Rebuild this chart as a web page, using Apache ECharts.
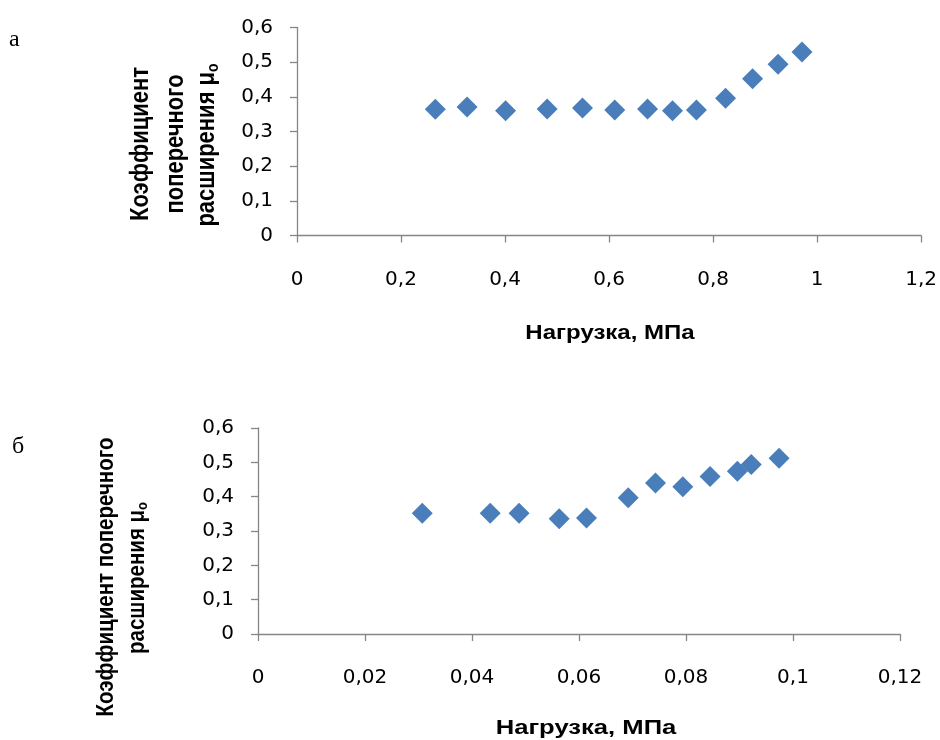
<!DOCTYPE html>
<html><head><meta charset="utf-8">
<script src="https://cdn.jsdelivr.net/npm/echarts@6/dist/echarts.min.js"></script>
<style>html,body{margin:0;padding:0;background:#fff}#c{width:940px;height:740px}</style>
</head><body><div id="c"></div>
<script>
// Chart "а"
const loadA = [0.266, 0.327, 0.401, 0.481, 0.549, 0.611, 0.674, 0.722, 0.768, 0.824, 0.876, 0.925, 0.971];
const muA   = [0.364, 0.371, 0.360, 0.365, 0.368, 0.362, 0.365, 0.360, 0.362, 0.396, 0.452, 0.494, 0.529];
// Chart "б"
const loadB = [0.0307, 0.0434, 0.0488, 0.0563, 0.0614, 0.0692, 0.0743, 0.0794, 0.0845, 0.0896, 0.0922, 0.0974];
const muB   = [0.352, 0.352, 0.352, 0.336, 0.338, 0.397, 0.440, 0.429, 0.459, 0.474, 0.494, 0.512];
const xTitle = 'Нагрузка, МПа';

const axisColor = '#868686';
const tickFont = '"DejaVu Sans", Verdana, sans-serif';
const font = '"Liberation Sans", Arial, sans-serif';
const comma = v => String(+v.toFixed(4)).replace('.', ',');
const pairs = (xs, ys) => xs.map((x, i) => [x, ys[i]]);

function xAxis(idx, max, interval) {
  return {
    type: 'value', gridIndex: idx, min: 0, max: max, interval: interval,
    axisLine: { show: true, lineStyle: { color: axisColor, width: 1.3 } },
    axisTick: { show: true, length: 7, inside: false, lineStyle: { color: axisColor, width: 1.3 } },
    splitLine: { show: false },
    axisLabel: { color: '#000', fontSize: 20, fontFamily: tickFont, margin: 34, formatter: comma }
  };
}
function yAxis(idx) {
  return {
    type: 'value', gridIndex: idx, min: 0, max: 0.6, interval: 0.1,
    axisLine: { show: true, lineStyle: { color: axisColor, width: 1.3 } },
    axisTick: { show: true, length: 7, lineStyle: { color: axisColor, width: 1.3 } },
    splitLine: { show: false },
    axisLabel: { color: '#000', fontSize: 20, fontFamily: tickFont, margin: 24, formatter: comma }
  };
}
function htext(x, y, text, sx) {
  return {
    type: 'text', x: x, y: y, scaleX: sx,
    style: { text: text, fill: '#000', fontWeight: 'bold', fontSize: 20, fontFamily: font,
             align: 'center', verticalAlign: 'middle' }
  };
}
function vtext(x, y, rich, size) {
  return {
    type: 'text', x: x, y: y, rotation: Math.PI / 2, scaleY: 1.15,
    style: {
      text: rich, align: 'center', verticalAlign: 'middle',
      rich: {
        t: { fill: '#000', fontWeight: 'bold', fontSize: size, fontFamily: font },
        s: { fill: '#000', fontWeight: 'bold', fontSize: Math.round(size * 0.65), fontFamily: font,
             padding: [Math.round(size * 0.55), 0, 0, 0] }
      }
    }
  };
}

const chart = echarts.init(document.getElementById('c'), null, { renderer: 'canvas' });
chart.setOption({
  animation: false,
  backgroundColor: '#fff',
  grid: [
    { left: 297, top: 27.5, width: 625, height: 208 },
    { left: 258, top: 428, width: 642, height: 206 }
  ],
  xAxis: [xAxis(0, 1.2, 0.2), xAxis(1, 0.12, 0.02)],
  yAxis: [yAxis(0), yAxis(1)],
  series: [
    { type: 'scatter', xAxisIndex: 0, yAxisIndex: 0, data: pairs(loadA, muA),
      symbol: 'diamond', symbolSize: 21, itemStyle: { color: '#4a7ebb', opacity: 1 } },
    { type: 'scatter', xAxisIndex: 1, yAxisIndex: 1, data: pairs(loadB, muB),
      symbol: 'diamond', symbolSize: 21, itemStyle: { color: '#4a7ebb', opacity: 1 } }
  ],
  graphic: [
    { type: 'text', x: 9, y: 28, style: { text: 'а', fill: '#000', font: '24px "Liberation Serif", serif' } },
    { type: 'text', x: 12, y: 435, style: { text: 'б', fill: '#000', font: '24px "Liberation Serif", serif' } },
    htext(610, 333, xTitle, 1.2),
    htext(586, 728, xTitle, 1.28),
    vtext(141, 144, '{t|Коэффициент}', 22),
    vtext(176, 144, '{t|поперечного}', 22),
    vtext(207, 145, '{t|расширения μ}{s|o}', 22),
    vtext(106, 577, '{t|Коэффициент поперечного}', 20.5),
    vtext(137, 578, '{t|расширения μ}{s|o}', 20.5)
  ]
});
</script></body></html>
